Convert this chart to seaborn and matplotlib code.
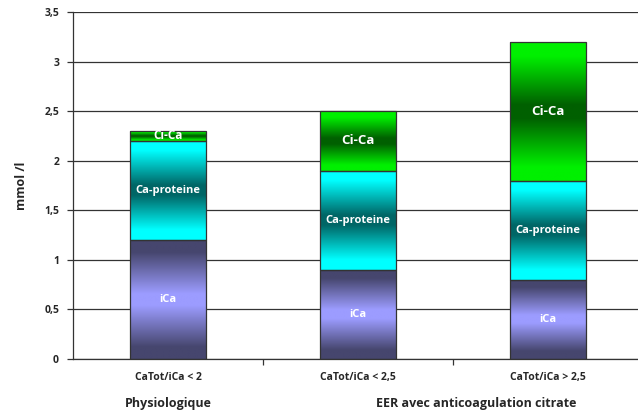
import numpy as np
import pandas as pd
import matplotlib
matplotlib.use("Agg")
import matplotlib.pyplot as plt
from matplotlib.colors import LinearSegmentedColormap
from matplotlib.ticker import FuncFormatter, MultipleLocator
import seaborn as sns

categories = ["CaTot/iCa < 2", "CaTot/iCa < 2,5", "CaTot/iCa > 2,5"]
groups = ["Physiologique", "EER avec anticoagulation citrate"]
series = ["iCa", "Ca-proteine", "Ci-Ca"]
ica = [1.2, 0.9, 0.8]
ca_proteine = [1.0, 1.0, 1.0]
ci_ca = [0.1, 0.6, 1.4]

# colour at the edges / colour at the centre of each segment
edge_mid = {
    "iCa": ("#46466e", "#9c9cff"),
    "Ca-proteine": ("#00ffff", "#006666"),
    "Ci-Ca": ("#00f000", "#006000"),
}
label_size = {"iCa": 8, "Ca-proteine": 8, "Ci-Ca": 9.5}

sns.set_theme(style="white")
plt.rcParams["font.family"] = ["Open Sans", "DejaVu Sans"]
plt.rcParams["font.weight"] = "bold"

fig = plt.figure(figsize=(6.38, 4.13), dpi=100)
ax = fig.add_axes([73 / 638, 54 / 413, 570 / 638, 347 / 413])

df = pd.DataFrame({"cat": categories, "iCa": ica, "Ca-proteine": ca_proteine, "Ci-Ca": ci_ca})
bottom = np.zeros(len(categories))
grad = np.linspace(0, 1, 256).reshape(-1, 1)
for name in series:
    vals = df[name].to_numpy()
    before = len(ax.patches)
    sns.barplot(x=df["cat"], y=vals + bottom, ax=ax, color="white", width=0.4,
                edgecolor="#333333", linewidth=0.9, zorder=3)
    new_patches = ax.patches[before:]
    # gradient fill clipped to each bar segment: flat near the edges, darkest/lightest in the middle
    c_edge, c_mid = edge_mid[name]
    cmap = LinearSegmentedColormap.from_list(
        name, [(0.0, c_edge), (0.1, c_edge), (0.45, c_mid), (0.55, c_mid),
               (0.9, c_edge), (1.0, c_edge)])
    for p, b, v in zip(new_patches, bottom, vals):
        x0 = p.get_x()
        w = p.get_width()
        p.set_y(b)
        p.set_height(v)
        p.set_facecolor("none")
        im = ax.imshow(grad, cmap=cmap, aspect="auto", origin="lower",
                       extent=[x0, x0 + w, b, b + v], zorder=2.5, interpolation="bilinear")
        im.set_clip_path(p)
        fs = label_size[name] if v > 0.3 else 8.5
        ax.text(x0 + w / 2, b + v / 2, name, ha="center", va="center",
                color="white", fontsize=fs, fontweight="bold", zorder=4)
    bottom = bottom + vals

ax.set_xlim(-0.5, 2.5)
ax.set_ylim(0, 3.5)
ax.yaxis.set_major_locator(MultipleLocator(0.5))
ax.yaxis.set_major_formatter(FuncFormatter(lambda v, _: f"{v:g}".replace(".", ",")))
ax.grid(axis="y", color="#333333", linewidth=0.9, zorder=0)
ax.set_axisbelow(True)

ax.set_xticks([0.5, 1.5])
ax.set_xticklabels([])
ax.tick_params(axis="x", bottom=True, length=4, width=0.9, color="#333333", direction="out")
ax.tick_params(axis="y", left=True, length=4, width=0.9, color="#333333", direction="out",
               labelsize=7.5, pad=6)
for lbl in ax.get_yticklabels():
    lbl.set_fontweight("bold")

for i, c in enumerate(categories):
    ax.text(i, -0.19, c, ha="center", va="center", fontsize=7.5, fontweight="bold", clip_on=False)
ax.text(0, -0.45, groups[0], ha="center", va="center", fontsize=9, fontweight="bold", clip_on=False)
ax.text(1.62, -0.45, groups[1], ha="center", va="center", fontsize=9, fontweight="bold", clip_on=False)

for s in ["top", "right"]:
    ax.spines[s].set_visible(False)
for s in ["left", "bottom"]:
    ax.spines[s].set_color("#333333")
    ax.spines[s].set_linewidth(0.9)

ax.set_xlabel("")
ax.set_ylabel("mmol /l", fontsize=9, fontweight="bold", labelpad=12)

fig.savefig("out.png", dpi=100)
